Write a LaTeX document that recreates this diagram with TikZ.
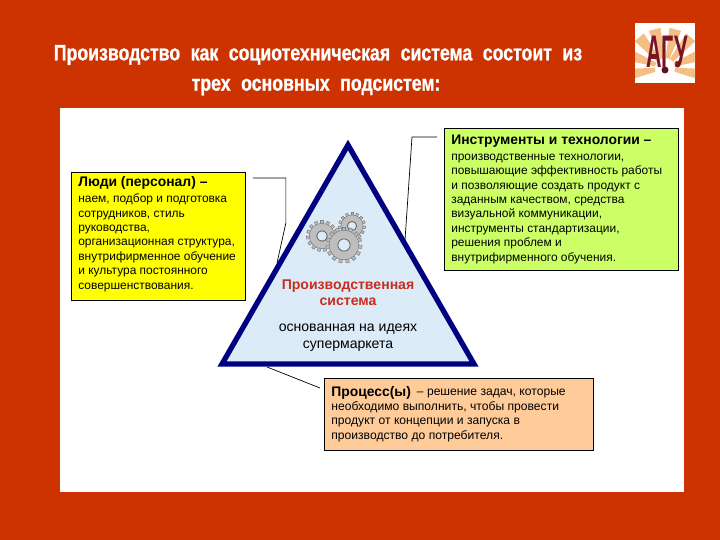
\documentclass[tikz,border=0pt]{standalone}
\usepackage{graphicx}
\usepackage{fontspec}
\setmainfont{Liberation Sans}
\newfontfamily\slidetitle[BoldFeatures={FakeBold=1.2}]{Liberation Sans}
\usetikzlibrary{calc}
\definecolor{slidered}{RGB}{204,51,0}
\definecolor{pyramidblue}{RGB}{220,235,248}
\definecolor{pyramidedge}{RGB}{0,0,128}
\definecolor{peoplebox}{RGB}{255,255,0}
\definecolor{toolbox}{RGB}{204,255,102}
\definecolor{processbox}{RGB}{255,204,153}
\definecolor{gearfill}{RGB}{190,190,190}
\definecolor{logoray}{RGB}{245,190,130}
\definecolor{logotext}{RGB}{120,20,40}
\definecolor{systemred}{RGB}{200,45,30}
\tikzset{
  infobox/.style={draw=black, line width=0.5pt, inner sep=0pt},
  infotext/.style={anchor=north west, align=left, inner sep=0pt, font=\fontsize{6.8}{8.2}\selectfont},
  headtext/.style={anchor=north west, inner sep=0pt, font=\fontsize{7.9}{8.6}\selectfont\bfseries},
  leader/.style={draw=black, line width=0.4pt},
  titletext/.style={text=white, inner sep=0pt, font=\fontsize{12.6}{14}\selectfont\slidetitle\bfseries},
  gearshape/.style={fill=gearfill, draw=gray, line width=0.3pt}
}
\newcommand{\cogwheel}[3]{%
  \foreach \a in {0,24,...,336} {
    \fill[gearshape, rotate around={\a:(#1,#2)}] (#1-#3*0.09,#2-#3*0.75) rectangle (#1+#3*0.09,#2-#3);
  }
  \fill[gearshape] (#1,#2) circle (#3*0.82);
  \fill[pyramidblue, draw=gray!80!black, line width=0.5pt] (#1,#2) circle (#3*0.34);
}
\begin{document}
\begin{tikzpicture}[x=0.02cm,y=-0.02cm]
\useasboundingbox (0,0) rectangle (720,540);
\fill[slidered] (0,0) rectangle (720,540);
\fill[white] (60,108) rectangle (684,492);

% Title
\node[titletext] (title1) at (318,55) {\scalebox{0.8}[1]{Производство\hspace{4pt} как\hspace{4pt} социотехническая\hspace{4pt} система\hspace{4pt} состоит\hspace{4pt} из}};
\node[titletext] (title2) at (316,87) {\scalebox{0.8}[1]{трех\hspace{4pt} основных\hspace{4pt} подсистем:}};

% Logo
\fill[white] (635,23) rectangle (695,83);
\begin{scope}
\clip (635,23) rectangle (695,83);
\foreach \a in {-100,-70,-40,-15,15,40,70,100} {
  \fill[logoray, rotate around={\a:(665,68)}] (663,58) -- (667,58) -- (671,28) -- (659,28) -- cycle;
}
\end{scope}
\node[text=logotext, inner sep=0pt, font=\fontsize{26}{26}\selectfont\bfseries] (logo) at (667,52) {\scalebox{0.47}[1]{АГУ}};
\fill[logotext!80!black] (665,70) circle (3.5);

% Pyramid
\draw[fill=pyramidblue, draw=pyramidedge, line width=3pt, line join=miter] (348,145) -- (474,364) -- (222,364) -- cycle;
\coordinate (peopleend) at (277,263);
\coordinate (toolend) at (405,240);
\coordinate (processend) at (267,367);

% Gears
\cogwheel{322}{236}{15.5}
\cogwheel{352}{226}{13.5}
\cogwheel{344}{245}{18}

% Pyramid labels
\node[text=systemred, inner sep=0pt, align=center, font=\fontsize{8}{9.2}\selectfont\bfseries] (system) at (348,293) {Производственная\\система};
\node[inner sep=0pt, align=center, font=\fontsize{8}{9.7}\selectfont] (idea) at (348,337.5) {основанная на идеях\\супермаркета};

% Left box
\node[infobox, fill=peoplebox, minimum width=174*0.02cm, minimum height=128*0.02cm, anchor=north west] (people) at (71,172) {};
\node[headtext] (peoplehead) at (78,176.5) {Люди (персонал) –};
\node[infotext] (peopletext) at (78,193.5) {наем, подбор и подготовка\\сотрудников, стиль\\руководства,\\организационная структура,\\внутрифирменное обучение\\и культура постоянного\\совершенствования.};

% Right box
\node[infobox, fill=toolbox, minimum width=234*0.02cm, minimum height=142*0.02cm, anchor=north west] (tools) at (444,128) {};
\node[headtext] (toolshead) at (451,134.5) {Инструменты и технологии –};
\node[infotext] (toolstext) at (451,153.5) {производственные технологии,\\повышающие эффективность работы\\и позволяющие создать продукт с\\заданным качеством, средства\\визуальной коммуникации,\\инструменты стандартизации,\\решения проблем и\\внутрифирменного обучения.};

% Bottom box
\node[infobox, fill=processbox, minimum width=269*0.02cm, minimum height=72*0.02cm, anchor=north west] (process) at (324,378) {};
\node[headtext] (processhead) at (331,386) {Процесс(ы)};
\node[infotext, font=\fontsize{6.9}{8.4}\selectfont] (processtext) at (331,388.5) {\hspace{48.7pt}– решение задач, которые\\необходимо выполнить, чтобы провести\\продукт от концепции и запуска в\\производство до потребителя.};

% Leaders
\draw[leader] ($(people.north east)+(7,6)$) -- ++(33,0) -- ++(0,45) -- (peopleend);
\draw[leader] ($(tools.north west)+(-7,9)$) -- ++(-25,0) -- (toolend);
\draw[leader] (processend) -- ($(process.north west)+(-4,10)$);
\end{tikzpicture}
\end{document}
